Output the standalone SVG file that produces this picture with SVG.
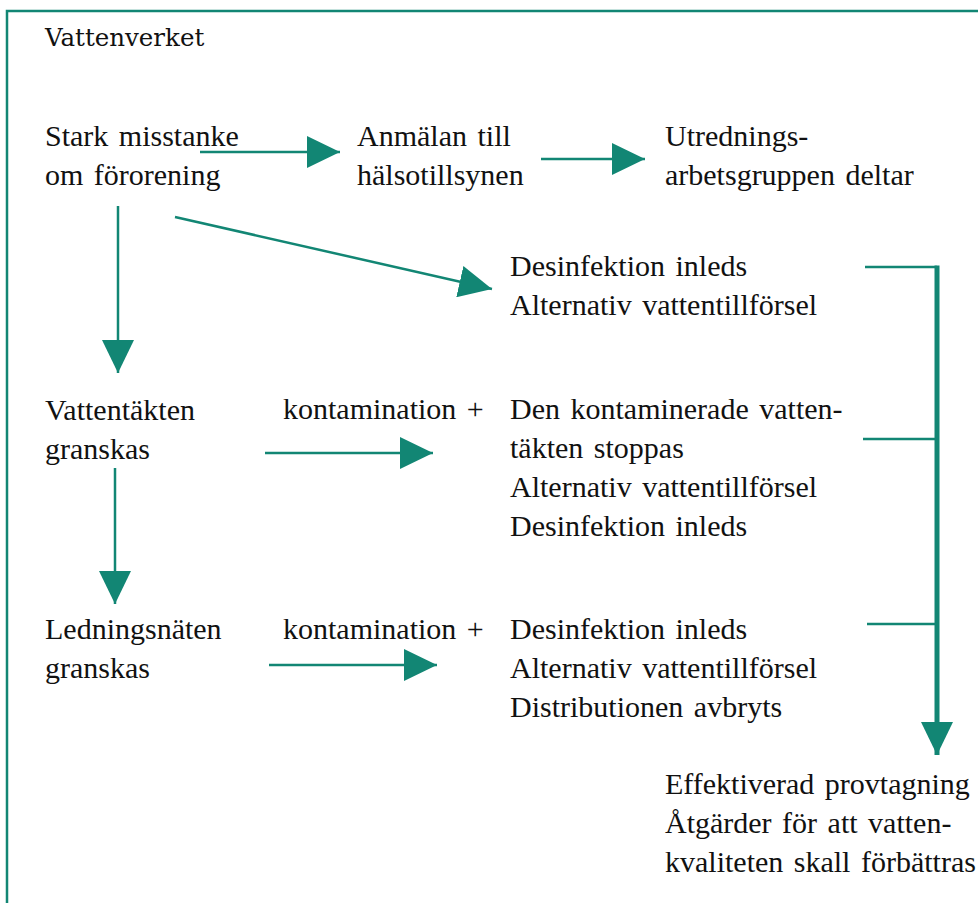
<svg xmlns="http://www.w3.org/2000/svg" width="978" height="903" viewBox="0 0 978 903">
  <defs>
    <style>
      .t { font-family: "Liberation Serif", "Times New Roman", serif; font-size: 30px; word-spacing: 3px; fill: #111; }
      .title { font-family: "DejaVu Serif", "Liberation Serif", serif; font-size: 24.5px; fill: #111; }
      .frame { fill: none; stroke: #128674; stroke-width: 2.5; }
      .c { fill: none; stroke: #128674; stroke-width: 2.5; }
      .c.thick { stroke-width: 5; }
      .c.arrow { marker-end: url(#head); }
    </style>
    <marker id="head" markerUnits="userSpaceOnUse" markerWidth="34" markerHeight="32" refX="33" refY="16" orient="auto">
      <path d="M0,0 L33,16 L0,32 Z" fill="#128674"/>
    </marker>
  </defs>

  <rect width="978" height="903" fill="#ffffff"/>

  <!-- outer frame (open to the right and bottom) -->
  <path class="frame" d="M7,903 V11 H978"/>

  <g id="title">
    <text class="title" x="45" y="46">Vattenverket</text>
  </g>

  <g id="node-misstanke">
    <text class="t" x="45" y="146">Stark misstanke</text>
    <text class="t" x="45" y="185">om förorening</text>
  </g>

  <g id="node-anmalan">
    <text class="t" x="357" y="146">Anmälan till</text>
    <text class="t" x="357" y="185">hälsotillsynen</text>
  </g>

  <g id="node-utredning">
    <text class="t" x="665" y="146">Utrednings-</text>
    <text class="t" x="665" y="185">arbetsgruppen deltar</text>
  </g>

  <g id="node-desinfektion">
    <text class="t" x="510" y="276">Desinfektion inleds</text>
    <text class="t" x="510" y="315">Alternativ vattentillförsel</text>
  </g>

  <g id="node-vattentakten">
    <text class="t" x="45" y="420">Vattentäkten</text>
    <text class="t" x="45" y="459">granskas</text>
  </g>

  <g id="label-kontamination-1">
    <text class="t" x="283" y="419">kontamination +</text>
  </g>

  <g id="node-stoppas">
    <text class="t" x="510" y="419">Den kontaminerade vatten-</text>
    <text class="t" x="510" y="458">täkten stoppas</text>
    <text class="t" x="510" y="497">Alternativ vattentillförsel</text>
    <text class="t" x="510" y="536">Desinfektion inleds</text>
  </g>

  <g id="node-ledningsnaten">
    <text class="t" x="45" y="639">Ledningsnäten</text>
    <text class="t" x="45" y="678">granskas</text>
  </g>

  <g id="label-kontamination-2">
    <text class="t" x="283" y="639">kontamination +</text>
  </g>

  <g id="node-distribution">
    <text class="t" x="510" y="639">Desinfektion inleds</text>
    <text class="t" x="510" y="678">Alternativ vattentillförsel</text>
    <text class="t" x="510" y="717">Distributionen avbryts</text>
  </g>

  <g id="node-atgarder">
    <text class="t" x="665" y="794">Effektiverad provtagning</text>
    <text class="t" x="665" y="833">Åtgärder för att vatten-</text>
    <text class="t" x="665" y="872">kvaliteten skall förbättras</text>
  </g>

  <g id="connectors">
    <line class="c arrow" x1="200" y1="152" x2="340" y2="152"/>
    <line class="c arrow" x1="541" y1="159" x2="645" y2="159"/>
    <line class="c arrow" x1="175" y1="217" x2="492" y2="289"/>
    <line class="c arrow" x1="118" y1="206" x2="118" y2="373"/>
    <line class="c arrow" x1="115" y1="468" x2="115" y2="604"/>
    <line class="c arrow" x1="265" y1="453" x2="433" y2="453"/>
    <line class="c arrow" x1="269" y1="665" x2="437" y2="665"/>
    <!-- collecting bracket on the right -->
    <line class="c" x1="865" y1="267" x2="937" y2="267"/>
    <line class="c" x1="863" y1="439" x2="935" y2="439"/>
    <line class="c" x1="867" y1="624" x2="935" y2="624"/>
    <line class="c thick arrow" x1="937" y1="265.5" x2="937" y2="755"/>
  </g>
</svg>
